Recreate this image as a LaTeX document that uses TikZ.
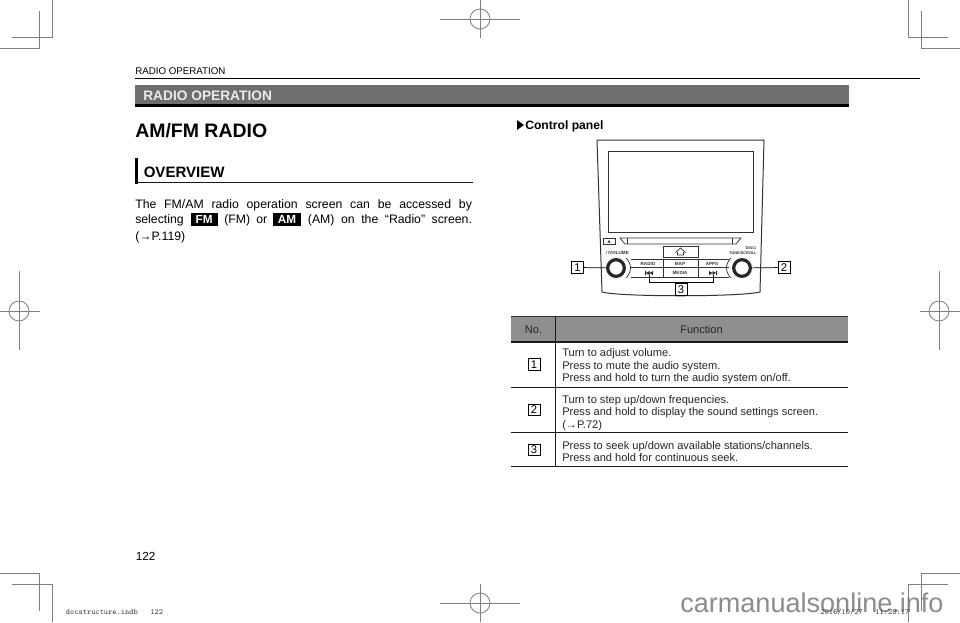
\documentclass[tikz,border=0pt]{standalone}
\usepackage{fontspec}
\setmainfont{Liberation Sans}
\newfontfamily\djv{DejaVu Sans}
\newcommand\jline[2]{\hbox to #1{\spaceskip=0.2em plus 1fil\relax #2}}
\definecolor{crop}{gray}{0.5}
\definecolor{banner}{HTML}{6E6E6E}
\definecolor{thead}{HTML}{8F8F8F}
\tikzset{
 cropline/.style={draw=crop,line width=0.6pt},
 txt/.style={inner sep=0pt,anchor=base west,font=\fontsize{9.2pt}{10pt}\selectfont},
 tabletxt/.style={inner sep=0pt,anchor=base west,font=\fontsize{8.3pt}{10pt}\selectfont,text=black!85},
 keybox/.style={fill=black,text=white,inner sep=0pt,minimum width=20.5pt,minimum height=9.8pt,font=\fontsize{8.8pt}{10pt}\bfseries\selectfont},
 numbox/.style={draw=black,fill=white,line width=0.7pt,inner sep=0pt,minimum width=9pt,minimum height=8.4pt,font=\fontsize{8.4pt}{9pt}\selectfont},
 panelline/.style={draw=black!80,line width=0.55pt},
 tiny/.style={inner sep=0pt,font=\fontsize{3.4pt}{4pt}\bfseries\selectfont,text=black!80},
 connector/.style={draw=black,line width=0.55pt},
 knob/.style={draw=black!85,line width=2.4pt,circle,minimum size=12.5pt,inner sep=0pt},
 stamp/.style={inner sep=0pt,anchor=base west,font=\ttfamily\fontsize{6pt}{7pt}\selectfont,text=black!75}
}
\begin{document}
\begin{tikzpicture}[x=0.75pt,y=-0.75pt]
\useasboundingbox (0,0) rectangle (960,622);
\fill[white] (0,0) rectangle (960,622);
% watermark
\node[inner sep=0pt,anchor=base west,text=black!45,font=\fontsize{20.3pt}{22pt}\selectfont] (wm) at (680,612) {carmanualsonline.info};
% crop marks
\draw[cropline] (52,0)--(52,37)--(12,37);
\draw[cropline] (0,48)--(39,48)--(39,11);
\draw[cropline] (908,0)--(908,37)--(948,37);
\draw[cropline] (960,48)--(921,48)--(921,11);
\draw[cropline] (0,573)--(39,573)--(39,611);
\draw[cropline] (12,584)--(52,584)--(52,622);
\draw[cropline] (960,573)--(921,573)--(921,611);
\draw[cropline] (948,584)--(908,584)--(908,622);
\foreach \cx/\cy in {480/19,480/603,19/311,939/311}{
 \draw[cropline] (\cx,\cy) circle (10);
}
\draw[cropline] (440,19)--(520,19) (480,0)--(480,38);
\draw[cropline] (440,603)--(520,603) (480,584)--(480,622);
\draw[cropline] (0,311)--(40,311) (19,271)--(19,350);
\draw[cropline] (920,311)--(960,311) (939,271)--(939,350);
% header
\node[inner sep=0pt,anchor=base west,font=\fontsize{7.3pt}{8pt}\selectfont] (hd) at (135,74) {RADIO OPERATION};
\draw[black,line width=1.1pt] (135,78.5)--(920,78.5);
\fill[banner] (135,84.5) rectangle (849,104);
\fill[black] (135,104) rectangle (849,107);
\node[inner sep=0pt,anchor=base west,text=white!92!black,font=\fontsize{10.3pt}{11pt}\bfseries\selectfont] (bn) at (143,100.2) {RADIO OPERATION};
% left column
\node[inner sep=0pt,anchor=base west,font=\fontsize{14.6pt}{16pt}\bfseries\selectfont] (am) at (135,137.4) {AM/FM RADIO};
\fill[black] (135,158) rectangle (137.5,183.5);
\draw[black!90,line width=1.1pt] (135,182.7)--(473,182.7);
\node[inner sep=0pt,anchor=base west,font=\fontsize{11.3pt}{12pt}\bfseries\selectfont] (ov) at (143.5,177.6) {OVERVIEW};
\node[txt] (l1) at (135,208) {\jline{252.5pt}{The FM/AM radio operation screen can be accessed by}};
\node[txt] (l2) at (135,223.5) {selecting};
\node[keybox] (fm) at (204.2,219.6) {FM};
\node[txt] (l2b) at (224,223.5) {\jline{32.25pt}{(FM) or}};
\node[keybox] (amk) at (287,219.6) {AM};
\node[txt] (l2c) at (307.7,223.5) {\jline{123pt}{(AM) on the “Radio” screen.}};
\node[txt] (l3) at (135,240.5) {(→P.119)};
% right column
\fill[black] (517,120) -- (524,125) -- (517,130) -- cycle;
\node[inner sep=0pt,anchor=base west,font=\fontsize{9.1pt}{10pt}\bfseries\selectfont] (cp) at (525,129) {Control panel};
% panel
\draw[panelline,line width=0.75pt] (597,140) -- (764,140) -- (760,292) .. controls (740,297) and (620,297) .. (602,292) -- cycle;
\draw[panelline] (608,151) rectangle (753,232);
\draw[panelline] (603,238) rectangle (615,244);
\fill[black!80] (607.5,242.5)--(610.5,242.5)--(609,240)--cycle;
\draw[panelline] (620,238)--(741,238)--(736,244)--(625,244)--cycle;
\draw[panelline] (627,238)--(627,244) (732,238)--(732,244);
\draw[panelline] (663,246) rectangle (698,257);
\draw[panelline] (677.5,252)--(677.5,255)--(683.5,255)--(683.5,252) (675.5,252.5)--(680.5,248)--(685.5,252.5);
% buttons
\draw[panelline] (631,259)--(729,259) (631,277)--(729,277);
\draw[black!80,line width=1.4pt] (631,267.5)--(729,267.5);
\draw[panelline] (663,259)--(663,277) (698,259)--(698,277);
\draw[panelline] (626,258) .. controls (632,264) and (632,272) .. (626,278);
\draw[panelline] (731,258) .. controls (725,264) and (725,272) .. (731,278);
\node[tiny] (rad) at (648,263.5) {RADIO};
\node[tiny] (map) at (680,263.5) {MAP};
\node[tiny] (app) at (712,263.5) {APPS};
\node[tiny] (med) at (680,272.8) {MEDIA};
\fill[black!85] (645,271)rectangle(646,275) (646,273)--(649.5,271)--(649.5,275)--cycle (649.5,273)--(653,271)--(653,275)--cycle;
\fill[black!85] (717,271)rectangle(716,275) (716,273)--(712.5,271)--(712.5,275)--cycle (712.5,273)--(709,271)--(709,275)--cycle;
\coordinate (skl) at (649,275);
\coordinate (skr) at (713,275);
\node[tiny] (vol) at (617,253) {\djv ♪\rmfamily/VOLUME};
\node[tiny,align=center,font=\fontsize{2.9pt}{3.2pt}\bfseries\selectfont] (tun) at (743,250.5) {\hspace*{12pt}DISC/\\TUNE/SCROLL};
% knobs
\node[knob] (k1) at (616,268) {};
\node[knob] (k2) at (742,268) {};
\node[numbox] (n1) at (577.5,267.5) {1};
\node[numbox] (n2) at (784,267.5) {2};
\node[numbox] (n3) at (681,289.5) {3};
\draw[connector] (n1)--(k1);
\draw[connector] (n2)--(k2);
\coordinate (b1) at (649,282);
\coordinate (b2) at (713,282);
\coordinate (bm) at (681,282);
\draw[connector] (skl)--(b1)--(b2)--(skr);
\draw[connector] (n3)--(bm);
% table
\fill[thead] (511,316) rectangle (848,342);
\draw[black!80,line width=0.7pt] (511,316)--(848,316);
\draw[black!90,line width=0.8pt] (511,342)--(848,342);
\draw[black!90,line width=0.7pt] (511,387)--(848,387) (511,432.7)--(848,432.7) (511,466)--(848,466);
\draw[black!90,line width=0.7pt] (555,316)--(555,466);
\node[tabletxt,anchor=center] (hno) at (533.5,329.5) {No.};
\node[tabletxt,anchor=center] (hfn) at (701.5,329.5) {Function};
\node[numbox] (t1) at (534,364.5) {1};
\node[numbox] (t2) at (534,410) {2};
\node[numbox] (t3) at (534,450) {3};
\node[tabletxt] (r1a) at (562,356.8) {Turn to adjust volume.};
\node[tabletxt] (r1b) at (562,369) {Press to mute the audio system.};
\node[tabletxt] (r1c) at (562,381) {Press and hold to turn the audio system on/off.};
\node[tabletxt] (r2a) at (562,403) {Turn to step up/down frequencies.};
\node[tabletxt] (r2b) at (562,415) {Press and hold to display the sound settings screen.};
\node[tabletxt] (r2c) at (562,428) {(→P.72)};
\node[tabletxt] (r3a) at (562,449) {Press to seek up/down available stations/channels.};
\node[tabletxt] (r3b) at (562,461) {Press and hold for continuous seek.};
% footer
\node[inner sep=0pt,anchor=base west,font=\fontsize{8.8pt}{10pt}\selectfont] (pg) at (135.5,560) {122};
\node[stamp] (ds) at (65.5,614) {docstructure.indb};
\node[stamp] (dn) at (150,614) {122};
\node[stamp] (dd) at (820,614) {2016/10/27};
\node[stamp] (dt) at (875,614) {11:28:17};
\end{tikzpicture}
\end{document}
